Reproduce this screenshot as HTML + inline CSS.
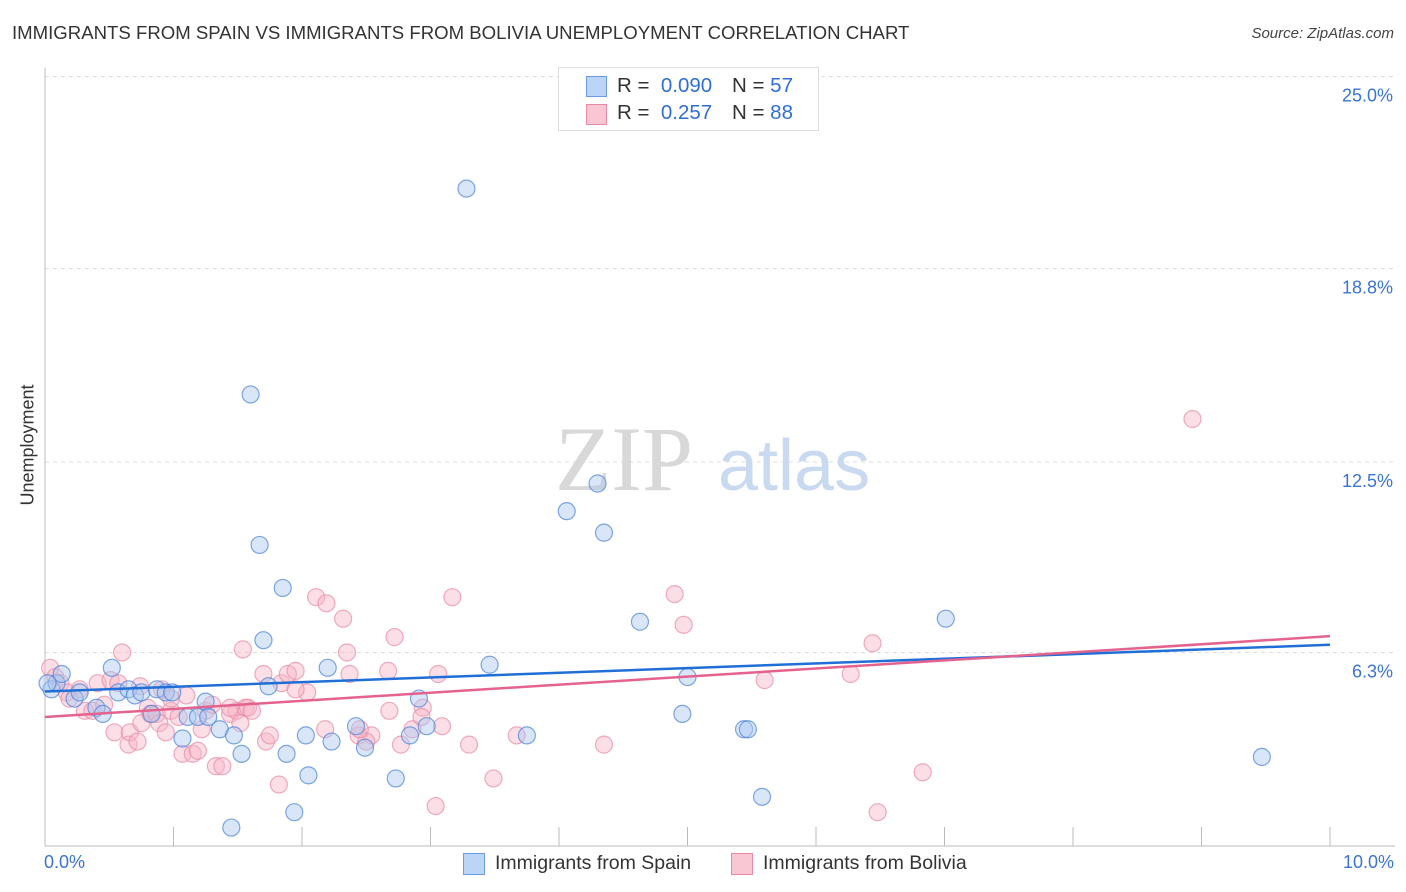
<!DOCTYPE html>
<html><head><meta charset="utf-8"><style>
body{margin:0;background:#fff;font-family:"Liberation Sans",sans-serif;}
#wrap{position:relative;width:1406px;height:892px;overflow:hidden}
.t{position:absolute;white-space:nowrap}
</style></head><body>
<div id="wrap">
<div class="t" style="left:12px;top:22px;font-size:18.6px;color:#333">IMMIGRANTS FROM SPAIN VS IMMIGRANTS FROM BOLIVIA UNEMPLOYMENT CORRELATION CHART</div>
<div class="t" style="right:12px;top:25px;font-size:15px;color:#444;font-style:italic">Source: ZipAtlas.com</div>
<svg id="svg" width="1406" height="892" style="position:absolute;left:0;top:0"></svg>
</div>
<script>
const yTicks=[25.0,18.8,12.5,6.3];
const yTickLabels=["25.0%","18.8%","12.5%","6.3%"];
const spainX=[0.05,0.09,0.13,0.23,0.27,0.40,0.45,0.52,0.57,0.65,0.70,0.75,0.83,0.87,0.94,0.99,1.07,1.11,1.19,1.25,1.27,1.36,1.47,1.53,1.60,1.67,1.70,1.74,1.85,1.88,1.94,2.03,2.05,2.20,2.23,2.42,2.49,2.73,2.84,2.91,2.97,3.28,3.46,3.75,4.06,4.30,4.35,4.63,4.96,5.00,5.44,5.47,5.58,7.01,9.47,1.45,0.02];
const spainY=[5.1,5.3,5.6,4.8,5.0,4.5,4.3,5.8,5.0,5.1,4.9,5.0,4.3,5.1,5.0,5.0,3.5,4.2,4.2,4.7,4.2,3.8,3.6,3.0,14.7,9.8,6.7,5.2,8.4,3.0,1.1,3.6,2.3,5.8,3.4,3.9,3.2,2.2,3.6,4.8,3.9,21.4,5.9,3.6,10.9,11.8,10.2,7.3,4.3,5.5,3.8,3.8,1.6,7.4,2.9,0.6,5.3];
const boliviaX=[0.04,0.08,0.12,0.17,0.27,0.31,0.37,0.41,0.46,0.51,0.54,0.60,0.65,0.66,0.72,0.75,0.80,0.82,0.87,0.89,0.94,0.98,1.04,1.07,1.10,1.15,1.19,1.22,1.25,1.30,1.33,1.38,1.44,1.49,1.54,1.56,1.58,1.70,1.72,1.75,1.82,1.84,1.89,1.95,2.04,2.11,2.19,2.32,2.35,2.37,2.18,2.44,2.54,2.50,2.67,2.68,2.72,2.77,2.86,2.94,3.04,3.06,3.09,3.17,3.30,3.49,3.67,4.35,4.90,4.97,5.60,6.27,6.44,6.48,6.83,8.93,1.95,1.44,0.91,0.74,0.57,0.19,0.98,1.61,2.45,2.93,1.52];
const boliviaY=[5.8,5.5,5.3,5.0,5.1,4.4,4.4,5.3,4.6,5.4,3.7,6.3,3.3,3.7,3.4,4.0,4.5,4.3,4.3,4.0,3.7,4.4,4.2,3.0,4.9,3.0,3.1,3.8,4.4,4.6,2.6,2.6,4.3,4.4,6.4,4.5,4.5,5.6,3.4,3.6,2.0,5.3,5.6,5.7,5.0,8.1,7.9,7.4,6.3,5.6,3.8,3.6,3.6,3.4,5.7,4.4,6.8,3.3,3.8,4.5,1.3,5.6,3.9,8.1,3.3,2.2,3.6,3.3,8.2,7.2,5.4,5.6,6.6,1.1,2.4,13.9,5.1,4.5,5.1,5.2,5.3,4.8,4.8,4.4,3.8,4.2,4.0];
const spainTrend=[5.03,6.55];
const boliviaTrend=[4.2,6.83];
const X0=45,X1=1330,Y0=846,PX=128.5,PY=30.72;
const sx=v=>X0+v*PX, sy=v=>Y0-v*PY;
const svg=document.getElementById('svg');const NS='http://www.w3.org/2000/svg';
function mk(tag,attrs,parent){const e=document.createElementNS(NS,tag);for(const k in attrs)e.setAttribute(k,attrs[k]);(parent||svg).appendChild(e);return e;}
yTicks.forEach((v,i)=>{
 const g=mk('line',{x1:45,x2:1395,y1:sy(v)+(i==0?-1.5:0),y2:sy(v)+(i==0?-1.5:0),stroke:'#ddd','stroke-dasharray':'4,4'});
 
 
 const t=mk('text',{x:1393,y:sy(v)+(i==0?-1.5:0)+25,'text-anchor':'end','font-size':18,fill:'#3a74d4','font-family':'Liberation Sans,sans-serif'});
 t.textContent=yTickLabels[i];
 
 
});
const w1=mk('text',{x:555,y:490,'font-size':92,fill:'#d8d8d8','font-family':'Liberation Serif,serif'});w1.textContent='ZIP';


const w2=mk('text',{x:718,y:490,'font-size':72,fill:'#c9d9f0','font-family':'Liberation Sans,sans-serif'});w2.textContent='atlas';


const ax=mk('line',{x1:45,x2:1395,y1:846,y2:846,stroke:'#bbb'});


const ay=mk('line',{x1:45,x2:45,y1:68,y2:846,stroke:'#bbb'});


for(let i=1;i<=10;i++){const tk=mk('line',{x1:sx(i),x2:sx(i),y1:827,y2:846,stroke:'#bbb'});

}
function dots(xs,ys,fill,stroke,name){xs.forEach((x,i)=>{const c=mk('circle',{cx:sx(x),cy:sy(ys[i]),r:8.5,fill:fill,'fill-opacity':0.45,stroke:stroke,'stroke-opacity':0.7,'stroke-width':1.2});

});}
dots(boliviaX,boliviaY,'#f7b6c8','#e88aa6','bolivia-point');
dots(spainX,spainY,'#a9c8f0','#4a82d8','spain-point');
const l1=mk('line',{x1:sx(0),x2:sx(10),y1:sy(spainTrend[0]),y2:sy(spainTrend[1]),stroke:'#1f6fd6','stroke-width':2.5});


const l2=mk('line',{x1:sx(0),x2:sx(10),y1:sy(boliviaTrend[0]),y2:sy(boliviaTrend[1]),stroke:'#e4628e','stroke-width':2.5});


</script>
<div class="t" style="left:-22px;top:445px;transform:rotate(-90deg);font-size:18px;color:#333;width:100px;text-align:center">Unemployment</div>
<div class="t" style="left:44px;top:852px;font-size:18px;color:#3a74d4">0.0%</div>
<div class="t" style="right:12px;top:852px;font-size:18px;color:#3a74d4">10.0%</div>
<div style="position:absolute;left:558px;top:67px;width:259px;height:62px;border:1px solid #ddd;background:#fff;font-size:20.5px;color:#333">
 <div style="position:absolute;left:27px;top:8px;width:19px;height:19px;background:#bcd4f5;border:1px solid #6a9ae0"></div>
 <div class="t" style="left:58px;top:6px">R = <span style="color:#2f6fd4">&nbsp;0.090</span></div>
 <div class="t" style="left:173px;top:6px">N = <span style="color:#2f6fd4">57</span></div>
 <div style="position:absolute;left:27px;top:36px;width:19px;height:19px;background:#f9c6d4;border:1px solid #e88aa6"></div>
 <div class="t" style="left:58px;top:33px">R = <span style="color:#2f6fd4">&nbsp;0.257</span></div>
 <div class="t" style="left:173px;top:33px">N = <span style="color:#2f6fd4">88</span></div>
</div>
<div style="position:absolute;left:463px;top:852px;font-size:19.5px;color:#333">
 <div style="position:absolute;left:0;top:1px;width:20px;height:20px;background:#bcd4f5;border:1px solid #6a9ae0"></div>
 <div class="t" style="left:32px;top:0">Immigrants from Spain</div>
</div>
<div style="position:absolute;left:731px;top:852px;font-size:19.5px;color:#333">
 <div style="position:absolute;left:0;top:1px;width:20px;height:20px;background:#f9c6d4;border:1px solid #e88aa6"></div>
 <div class="t" style="left:32px;top:0">Immigrants from Bolivia</div>
</div>
</body></html>
